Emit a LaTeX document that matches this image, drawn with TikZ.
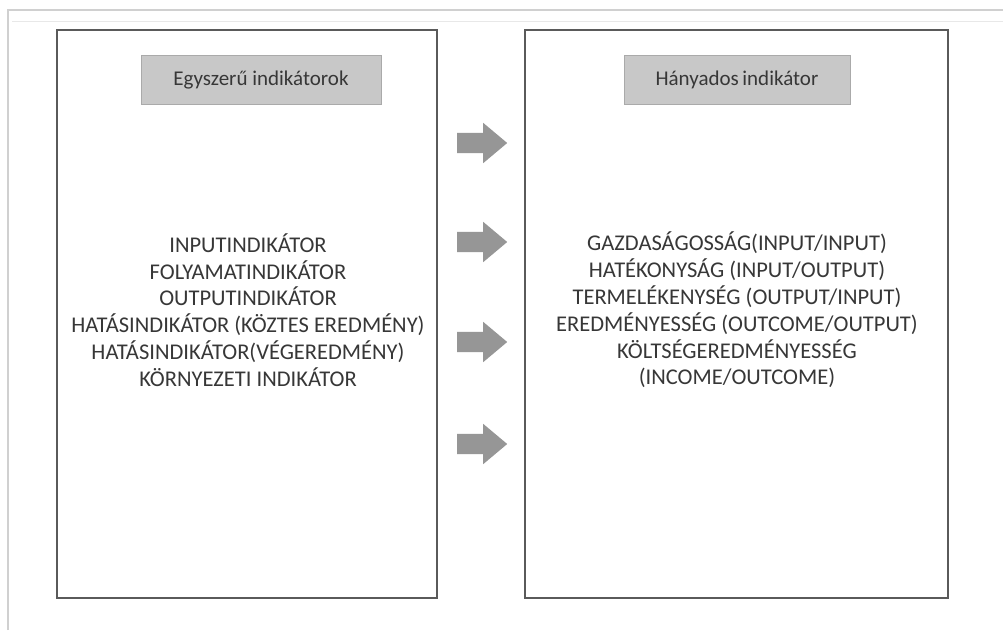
\documentclass[tikz,border=0pt]{standalone}
\usepackage{fontspec}
\setmainfont{Carlito}
\usetikzlibrary{shapes.arrows}
\definecolor{framegray}{RGB}{208,208,208}
\definecolor{boxline}{RGB}{90,90,90}
\definecolor{headfill}{RGB}{200,200,200}
\definecolor{arrowfill}{RGB}{150,150,150}
\definecolor{txt}{RGB}{55,55,55}
\begin{document}
\begin{tikzpicture}[x=1pt,y=-1pt,
  panel/.style={draw=boxline,line width=1.5pt,fill=white},
  header/.style={fill=headfill,draw=headfill!85!black,line width=0.4pt,
    minimum height=49pt,inner sep=0pt,text=txt,
    font=\fontsize{21}{24}\selectfont},
  body/.style={align=center,text=txt,inner sep=0pt,
    font=\fontsize{22.5}{26.8}\selectfont},
  bigarrow/.style={single arrow,fill=arrowfill,draw=none,anchor=tail,
    minimum height=50pt,inner xsep=0pt,inner ysep=10pt,
    single arrow head extend=10pt,single arrow head indent=0pt,
    single arrow tip angle=80}]
  \useasboundingbox (0,0) rectangle (1003,630);
  \fill[white] (0,0) rectangle (1003,630);
  % outer frame (top and left edges)
  \draw[framegray,line width=1.2pt] (8,630) -- (8,10) -- (1003,10);
  \draw[framegray!50,line width=0.8pt] (12,21) -- (1003,21);

  % panels
  \draw[panel] (57,30) rectangle (437,598);
  \draw[panel] (525,30) rectangle (948,598);

  % panel headers
  \node[header,minimum width=240pt] (hleft) at (261,80) {Egyszerű indikátorok};
  \node[header,minimum width=226pt] (hright) at (737,80) {Hányados\,indikátor};

  % panel contents
  \node[body] (simple) at (248,310) {INPUTINDIKÁTOR\\
    FOLYAMATINDIKÁTOR\\
    OUTPUTINDIKÁTOR\\
    HATÁSINDIKÁTOR (KÖZTES EREDMÉNY)\\
    HATÁSINDIKÁTOR(VÉGEREDMÉNY)\\
    KÖRNYEZETI INDIKÁTOR};
  \node[body] (ratio) at (737,310) {GAZDASÁGOSSÁG(INPUT/INPUT)\\
    HATÉKONYSÁG (INPUT/OUTPUT)\\
    TERMELÉKENYSÉG (OUTPUT/INPUT)\\
    EREDMÉNYESSÉG (OUTCOME/OUTPUT)\\
    KÖLTSÉGEREDMÉNYESSÉG\\
    (INCOME/OUTCOME)};

  % arrows between the panels
  \node[bigarrow] (a1) at (457,143) {};
  \node[bigarrow] (a2) at (457,242) {};
  \node[bigarrow] (a3) at (457,342) {};
  \node[bigarrow] (a4) at (457,444) {};
\end{tikzpicture}
\end{document}
